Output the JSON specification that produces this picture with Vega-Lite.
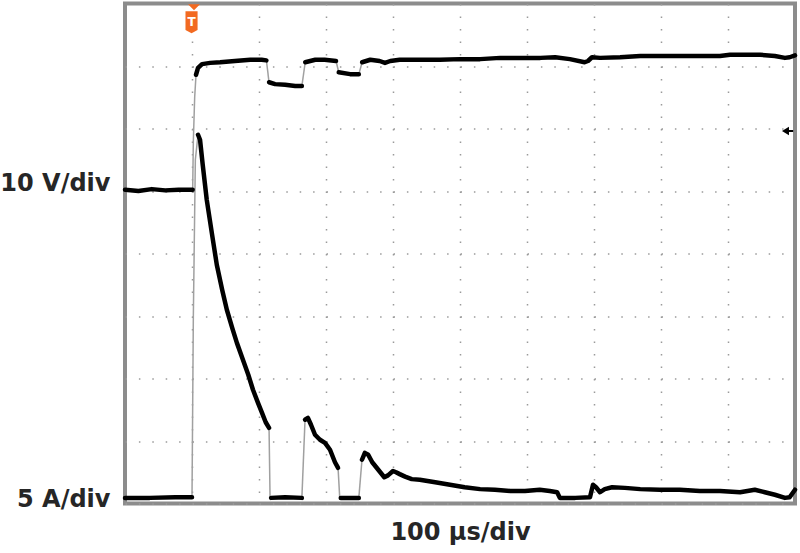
{
  "$schema": "https://vega.github.io/schema/vega-lite/v6.json",
  "width": 670,
  "height": 500,
  "autosize": "none",
  "padding": {"left": 125, "top": 3.5, "right": 5, "bottom": 49.5},
  "background": "white",
  "config": {"view": {"stroke": "#8c8c8c", "strokeWidth": 4}, "font": "DejaVu Sans"},
  "datasets": {
    "trace": [
      {"seg": "V1", "t": 0, "v": 5.02}, {"seg": "V1", "t": 20, "v": 5.0}, {"seg": "V1", "t": 40, "v": 5.03}, {"seg": "V1", "t": 60, "v": 5.01}, {"seg": "V1", "t": 80, "v": 5.02}, {"seg": "V1", "t": 101, "v": 5.02},
      {"seg": "V2", "t": 106, "v": 6.86}, {"seg": "V2", "t": 109, "v": 6.97}, {"seg": "V2", "t": 115, "v": 7.03}, {"seg": "V2", "t": 127, "v": 7.05}, {"seg": "V2", "t": 142, "v": 7.06}, {"seg": "V2", "t": 164, "v": 7.08}, {"seg": "V2", "t": 187, "v": 7.1}, {"seg": "V2", "t": 204, "v": 7.1}, {"seg": "V2", "t": 211, "v": 7.09},
      {"seg": "V3", "t": 215, "v": 6.74}, {"seg": "V3", "t": 224, "v": 6.71}, {"seg": "V3", "t": 239, "v": 6.7}, {"seg": "V3", "t": 254, "v": 6.68}, {"seg": "V3", "t": 264, "v": 6.68},
      {"seg": "V4", "t": 269, "v": 7.06}, {"seg": "V4", "t": 284, "v": 7.1}, {"seg": "V4", "t": 298, "v": 7.1}, {"seg": "V4", "t": 315, "v": 7.08},
      {"seg": "V5", "t": 319, "v": 6.9}, {"seg": "V5", "t": 336, "v": 6.87}, {"seg": "V5", "t": 349, "v": 6.87},
      {"seg": "V6", "t": 354, "v": 7.06}, {"seg": "V6", "t": 366, "v": 7.1}, {"seg": "V6", "t": 380, "v": 7.08}, {"seg": "V6", "t": 388, "v": 7.05}, {"seg": "V6", "t": 396, "v": 7.08}, {"seg": "V6", "t": 410, "v": 7.1}, {"seg": "V6", "t": 440, "v": 7.1}, {"seg": "V6", "t": 470, "v": 7.1}, {"seg": "V6", "t": 500, "v": 7.11}, {"seg": "V6", "t": 530, "v": 7.11}, {"seg": "V6", "t": 560, "v": 7.13}, {"seg": "V6", "t": 590, "v": 7.13}, {"seg": "V6", "t": 620, "v": 7.13}, {"seg": "V6", "t": 642, "v": 7.14}, {"seg": "V6", "t": 664, "v": 7.11}, {"seg": "V6", "t": 686, "v": 7.06}, {"seg": "V6", "t": 691, "v": 7.08}, {"seg": "V6", "t": 697, "v": 7.14}, {"seg": "V6", "t": 709, "v": 7.13}, {"seg": "V6", "t": 739, "v": 7.14}, {"seg": "V6", "t": 769, "v": 7.16}, {"seg": "V6", "t": 799, "v": 7.16}, {"seg": "V6", "t": 828, "v": 7.16}, {"seg": "V6", "t": 858, "v": 7.16}, {"seg": "V6", "t": 888, "v": 7.16}, {"seg": "V6", "t": 903, "v": 7.18}, {"seg": "V6", "t": 925, "v": 7.18}, {"seg": "V6", "t": 948, "v": 7.18}, {"seg": "V6", "t": 970, "v": 7.16}, {"seg": "V6", "t": 985, "v": 7.13}, {"seg": "V6", "t": 992, "v": 7.14}, {"seg": "V6", "t": 1000, "v": 7.17},
      {"seg": "I1", "t": 0, "v": 0.09}, {"seg": "I1", "t": 37, "v": 0.09}, {"seg": "I1", "t": 75, "v": 0.1}, {"seg": "I1", "t": 100, "v": 0.1},
      {"seg": "I2", "t": 109, "v": 5.9}, {"seg": "I2", "t": 112, "v": 5.82}, {"seg": "I2", "t": 116, "v": 5.42}, {"seg": "I2", "t": 122, "v": 4.86}, {"seg": "I2", "t": 130, "v": 4.3}, {"seg": "I2", "t": 137, "v": 3.82}, {"seg": "I2", "t": 145, "v": 3.42}, {"seg": "I2", "t": 152, "v": 3.1}, {"seg": "I2", "t": 160, "v": 2.81}, {"seg": "I2", "t": 167, "v": 2.57}, {"seg": "I2", "t": 176, "v": 2.3}, {"seg": "I2", "t": 184, "v": 2.06}, {"seg": "I2", "t": 191, "v": 1.82}, {"seg": "I2", "t": 198.5, "v": 1.61}, {"seg": "I2", "t": 204.5, "v": 1.45}, {"seg": "I2", "t": 210, "v": 1.3}, {"seg": "I2", "t": 215, "v": 1.21},
      {"seg": "I3", "t": 218, "v": 0.09}, {"seg": "I3", "t": 239, "v": 0.1}, {"seg": "I3", "t": 264, "v": 0.09},
      {"seg": "I4", "t": 268.7, "v": 1.34}, {"seg": "I4", "t": 273, "v": 1.37}, {"seg": "I4", "t": 277.6, "v": 1.26}, {"seg": "I4", "t": 283.6, "v": 1.1}, {"seg": "I4", "t": 291, "v": 1.02}, {"seg": "I4", "t": 298.5, "v": 0.97}, {"seg": "I4", "t": 306, "v": 0.86}, {"seg": "I4", "t": 313.4, "v": 0.66}, {"seg": "I4", "t": 318, "v": 0.57},
      {"seg": "I5", "t": 322, "v": 0.09}, {"seg": "I5", "t": 336, "v": 0.09}, {"seg": "I5", "t": 349, "v": 0.09},
      {"seg": "I6", "t": 353.7, "v": 0.7}, {"seg": "I6", "t": 358, "v": 0.81}, {"seg": "I6", "t": 363, "v": 0.78}, {"seg": "I6", "t": 369, "v": 0.66}, {"seg": "I6", "t": 378, "v": 0.54}, {"seg": "I6", "t": 387, "v": 0.42}, {"seg": "I6", "t": 392.5, "v": 0.45}, {"seg": "I6", "t": 400, "v": 0.52}, {"seg": "I6", "t": 404.5, "v": 0.5}, {"seg": "I6", "t": 410, "v": 0.47}, {"seg": "I6", "t": 418, "v": 0.43}, {"seg": "I6", "t": 428, "v": 0.39}, {"seg": "I6", "t": 440, "v": 0.38}, {"seg": "I6", "t": 463, "v": 0.34}, {"seg": "I6", "t": 485, "v": 0.3}, {"seg": "I6", "t": 507, "v": 0.26}, {"seg": "I6", "t": 530, "v": 0.23}, {"seg": "I6", "t": 552, "v": 0.22}, {"seg": "I6", "t": 575, "v": 0.2}, {"seg": "I6", "t": 597, "v": 0.2}, {"seg": "I6", "t": 619, "v": 0.22}, {"seg": "I6", "t": 634, "v": 0.2}, {"seg": "I6", "t": 645, "v": 0.18}, {"seg": "I6", "t": 649, "v": 0.09}, {"seg": "I6", "t": 672, "v": 0.09}, {"seg": "I6", "t": 694, "v": 0.1}, {"seg": "I6", "t": 698.5, "v": 0.3}, {"seg": "I6", "t": 703, "v": 0.26}, {"seg": "I6", "t": 709, "v": 0.18}, {"seg": "I6", "t": 716, "v": 0.23}, {"seg": "I6", "t": 727, "v": 0.26}, {"seg": "I6", "t": 746, "v": 0.25}, {"seg": "I6", "t": 769, "v": 0.23}, {"seg": "I6", "t": 798, "v": 0.22}, {"seg": "I6", "t": 828, "v": 0.22}, {"seg": "I6", "t": 858, "v": 0.2}, {"seg": "I6", "t": 888, "v": 0.2}, {"seg": "I6", "t": 918, "v": 0.18}, {"seg": "I6", "t": 940, "v": 0.22}, {"seg": "I6", "t": 955, "v": 0.18}, {"seg": "I6", "t": 970, "v": 0.14}, {"seg": "I6", "t": 985, "v": 0.09}, {"seg": "I6", "t": 992, "v": 0.1}, {"seg": "I6", "t": 1000, "v": 0.22}
    ],
    "edges": [
      {"seg": "EV1", "t": 101, "v": 5.02}, {"seg": "EV1", "t": 102, "v": 5.8}, {"seg": "EV1", "t": 104, "v": 6.5}, {"seg": "EV1", "t": 106, "v": 6.86},
      {"seg": "EV2", "t": 211, "v": 7.09}, {"seg": "EV2", "t": 215, "v": 6.74},
      {"seg": "EV3", "t": 264, "v": 6.68}, {"seg": "EV3", "t": 269, "v": 7.06},
      {"seg": "EV4", "t": 315, "v": 7.08}, {"seg": "EV4", "t": 319, "v": 6.9},
      {"seg": "EV5", "t": 349, "v": 6.87}, {"seg": "EV5", "t": 354, "v": 7.06},
      {"seg": "EI1", "t": 100, "v": 0.1}, {"seg": "EI1", "t": 102, "v": 3.0}, {"seg": "EI1", "t": 105, "v": 5.5}, {"seg": "EI1", "t": 109, "v": 5.9},
      {"seg": "EI2", "t": 215, "v": 1.21}, {"seg": "EI2", "t": 216.5, "v": 0.09}, {"seg": "EI2", "t": 218, "v": 0.09},
      {"seg": "EI3", "t": 264, "v": 0.09}, {"seg": "EI3", "t": 268.7, "v": 1.34},
      {"seg": "EI4", "t": 318, "v": 0.57}, {"seg": "EI4", "t": 320.5, "v": 0.09}, {"seg": "EI4", "t": 322, "v": 0.09},
      {"seg": "EI5", "t": 349, "v": 0.09}, {"seg": "EI5", "t": 353.7, "v": 0.7}
    ],
    "trigger": [{"t": 99.3, "v": 7.7, "label": "T"}],
    "triggerTop": [{"t": 103, "v": 7.94}],
    "level": [{"t": 991, "v": 5.96}]
  },
  "encoding": {
    "x": {
      "field": "t", "type": "quantitative",
      "scale": {"domain": [0, 1000], "nice": false, "zero": false},
      "axis": {
        "title": "100 µs/div", "titleFont": "DejaVu Sans", "titleFontSize": 24, "titleFontWeight": "bold", "titleColor": "#262626",
        "titleBaseline": "alphabetic", "titlePadding": 36,
        "labels": false, "ticks": false, "domain": false,
        "grid": true, "values": [100, 200, 300, 400, 500, 600, 700, 800, 900],
        "gridColor": "#9a9a9a", "gridWidth": 1.5, "gridDash": [1.5, 11]
      }
    },
    "y": {
      "field": "v", "type": "quantitative",
      "scale": {"domain": [0, 8], "nice": false, "zero": false},
      "axis": {
        "title": null, "values": [0, 1, 2, 3, 4, 5, 6, 7],
        "labelExpr": "datum.value == 5 ? '10 V/div' : datum.value == 0 ? '5 A/div' : ''",
        "labelFont": "DejaVu Sans", "labelFontSize": 24, "labelFontWeight": "bold", "labelColor": "#262626",
        "labelBaseline": "alphabetic", "labelAlign": "right", "labelPadding": 15,
        "labelOffset": {"condition": {"test": "datum.value == 0", "value": 2.5}, "value": -1},
        "labelOverlap": false,
        "ticks": false, "domain": false,
        "grid": true, "gridColor": "#9a9a9a", "gridWidth": 1.5, "gridDash": [1.5, 11.9]
      }
    }
  },
  "layer": [
    {
      "data": {"name": "edges"},
      "mark": {"type": "line", "color": "#a0a0a0", "strokeWidth": 1.5},
      "encoding": {"detail": {"field": "seg"}}
    },
    {
      "data": {"name": "trace"},
      "mark": {"type": "line", "color": "#000000", "strokeWidth": 4.5, "strokeJoin": "round", "strokeCap": "round"},
      "encoding": {"detail": {"field": "seg"}}
    },
    {
      "data": {"name": "triggerTop"},
      "mark": {"type": "point", "shape": "M-1,-0.5L1,-0.5L0,0.5Z", "filled": true, "color": "#f26a21", "size": 144, "opacity": 1},
      "encoding": {}
    },
    {
      "data": {"name": "trigger"},
      "mark": {"type": "point", "shape": "M-0.55,-1L0.55,-1L0.55,0.7L0,1L-0.55,0.7Z", "filled": true, "color": "#f26a21", "size": 484, "opacity": 1},
      "encoding": {}
    },
    {
      "data": {"name": "trigger"},
      "mark": {"type": "text", "color": "white", "fontWeight": "bold", "fontSize": 12, "font": "DejaVu Sans", "baseline": "middle", "align": "center"},
      "encoding": {"text": {"field": "label"}}
    },
    {
      "data": {"name": "level"},
      "mark": {"type": "point", "shape": "M-1,0L0,-0.6L0,0.6Z M0,-0.15L0.6,-0.15L0.6,0.15L0,0.15Z", "filled": true, "color": "#000000", "size": 196, "opacity": 1},
      "encoding": {}
    }
  ]
}
